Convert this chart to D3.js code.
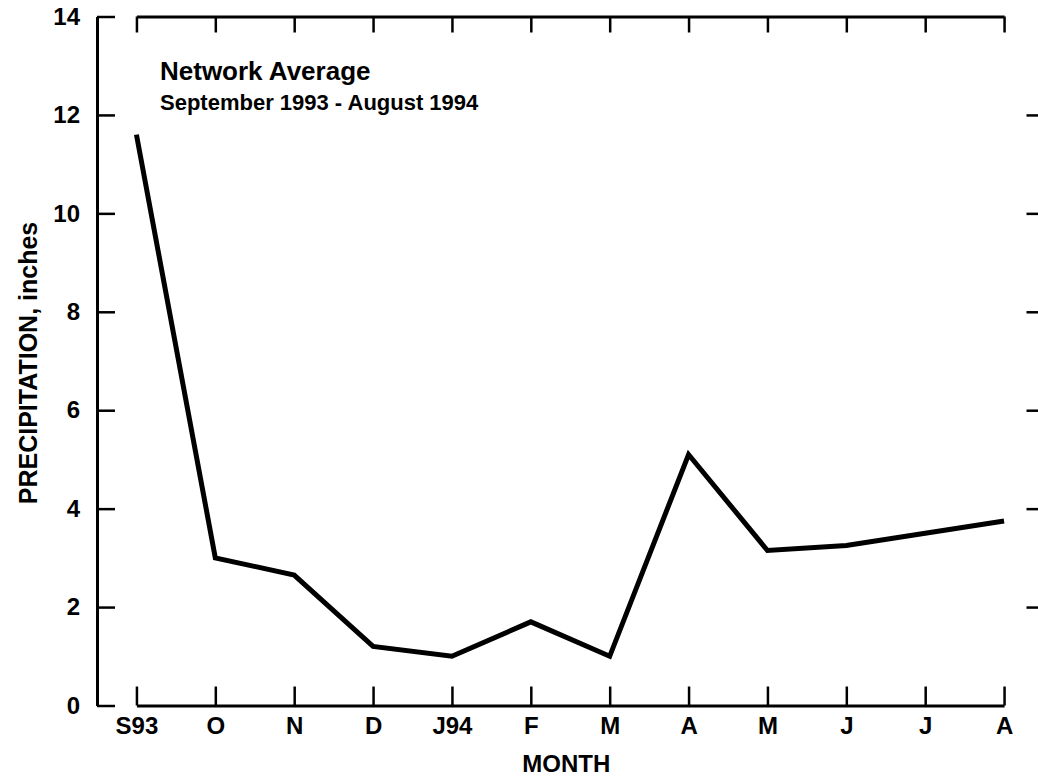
<!DOCTYPE html>
<html>
<head>
<meta charset="utf-8">
<script src="https://cdn.jsdelivr.net/npm/d3@7"></script>
<style>
  body { margin: 0; background: #fff; }
  svg { display: block; font-family: 'Liberation Sans', Arial, Helvetica, sans-serif; }
  .axis path, .axis line { stroke: #000; }
  .axis text { font-size: 24px; font-weight: bold; fill: #000; }
</style>
</head>
<body>
<svg></svg>
<script>
'use strict';
// Chart data
var monthLabels = ['S93', 'O', 'N', 'D', 'J94', 'F', 'M', 'A', 'M', 'J', 'J', 'A'];
var precipitation = [11.6, 3.0, 2.65, 1.2, 1.0, 1.7, 1.0, 5.1, 3.15, 3.25, 3.5, 3.75];
var yTicks = [0, 2, 4, 6, 8, 10, 12, 14];
var sideTicks = [2, 4, 6, 8, 10, 12];

// Setting up the chart area
var canvasWidth = 1038;
var canvasHeight = 780;
var margin = { top: 16.5, right: -5.5, bottom: 74.5, left: 97 };
var width = canvasWidth - margin.left - margin.right;
var height = canvasHeight - margin.top - margin.bottom;

var svg = d3.select('svg')
  .attr('width', canvasWidth)
  .attr('height', canvasHeight);

var graphArea = svg.append('g')
  .attr('transform', 'translate(' + margin.left + ',' + margin.top + ')');

var xScale = d3.scaleBand()
  .domain(d3.range(monthLabels.length))
  .range([0, width])
  .padding(0);
var xCenter = function(i) { return xScale(i) + xScale.bandwidth() / 2; };
// point scale for ticks at band centers
var xTickScale = d3.scalePoint()
  .domain(d3.range(monthLabels.length))
  .range([xCenter(0), xCenter(monthLabels.length - 1)]);
var yScale = d3.scaleLinear().domain([0, 14]).range([height, 0]);

// Bottom axis: ticks point upward, labels below
graphArea.append('g')
  .attr('class', 'x axis')
  .attr('transform', 'translate(0,' + height + ')')
  .call(d3.axisBottom(xTickScale)
    .tickSizeInner(-19).tickSizeOuter(0).tickPadding(11)
    .tickFormat(function(i) { return monthLabels[i]; }));

// Top axis: ticks only
graphArea.append('g')
  .attr('class', 'x axis top')
  .call(d3.axisTop(xTickScale)
    .tickSizeInner(-16).tickSizeOuter(0).tickFormat(''));

// Left axis
graphArea.append('g')
  .attr('class', 'y axis')
  .call(d3.axisLeft(yScale)
    .tickValues(yTicks)
    .tickSizeInner(-18).tickSizeOuter(0).tickPadding(17)
    .tickFormat(d3.format('d')));

// Right axis: ticks only
graphArea.append('g')
  .attr('class', 'y axis right')
  .attr('transform', 'translate(' + width + ',0)')
  .call(d3.axisRight(yScale)
    .tickValues(sideTicks)
    .tickSizeInner(-17).tickSizeOuter(0).tickFormat(''));

// Frame and tick weights
graphArea.selectAll('.axis path').attr('stroke-width', 3);
graphArea.selectAll('.axis line').attr('stroke-width', 2.5);

// Data line
var line = d3.line()
  .x(function(d, i) { return xCenter(i); })
  .y(function(d) { return yScale(d); });

graphArea.append('path')
  .datum(precipitation)
  .attr('fill', 'none')
  .attr('stroke', '#000')
  .attr('stroke-width', 5)
  .attr('stroke-linejoin', 'miter')
  .attr('d', line);

// Title block
graphArea.append('text')
  .attr('x', 63)
  .attr('y', 63)
  .attr('font-size', 26)
  .attr('font-weight', 'bold')
  .text('Network Average');

graphArea.append('text')
  .attr('x', 63)
  .attr('y', 93.5)
  .attr('font-size', 22)
  .attr('font-weight', 'bold')
  .text('September 1993 - August 1994');

// Axis titles
svg.append('text')
  .attr('x', margin.left + width / 2 - 4)
  .attr('y', 772)
  .attr('text-anchor', 'middle')
  .attr('font-size', 24)
  .attr('font-weight', 'bold')
  .text('MONTH');

svg.append('text')
  .attr('transform', 'translate(37,' + (margin.top + height / 2 + 2) + ') rotate(-90)')
  .attr('text-anchor', 'middle')
  .attr('font-size', 25)
  .attr('font-weight', 'bold')
  .text('PRECIPITATION, inches');
</script>
</body>
</html>
